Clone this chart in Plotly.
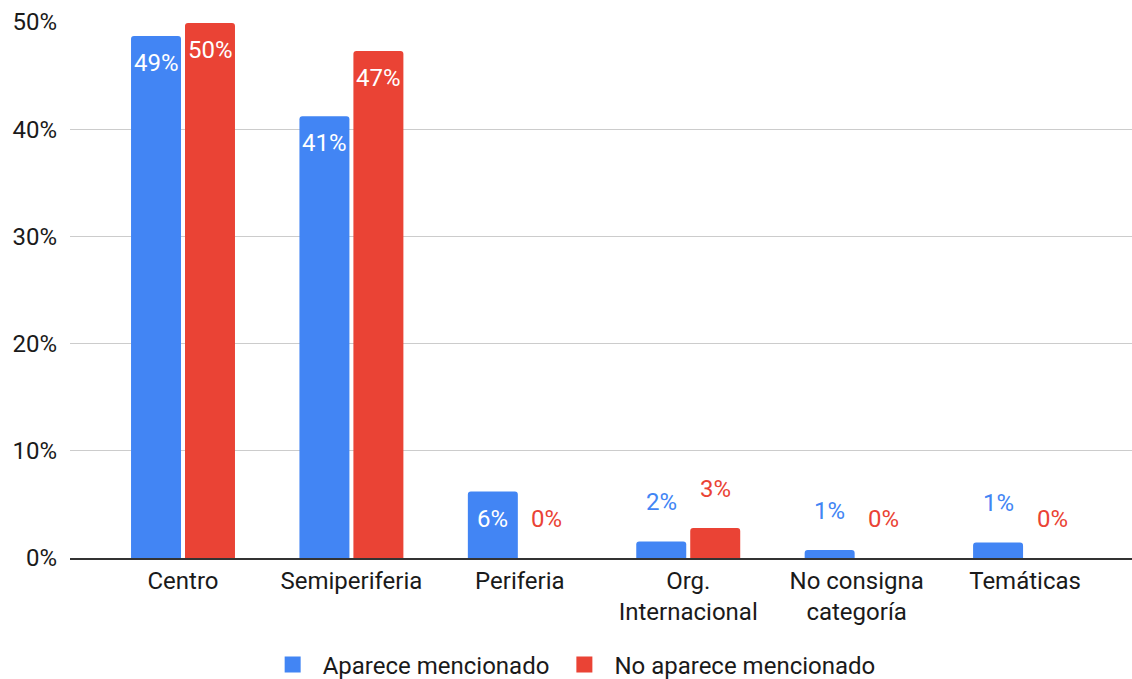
import plotly.graph_objects as go

categories = ["Centro", "Semiperiferia", "Periferia", "Org.<br>Internacional",
              "No consigna<br>categoría", "Temáticas"]
aparece = [48.7, 41.2, 6.2, 1.55, 0.75, 1.45]
no_aparece = [49.9, 47.3, 0.0, 2.8, 0.0, 0.0]
series_names = ["Aparece mencionado", "No aparece mencionado"]
y_ticks = [0, 10, 20, 30, 40, 50]
y_tick_labels = ["0%", "10%", "20%", "30%", "40%", "50%"]

BLUE = "#4285F4"
RED = "#EA4335"
FONT = "Roboto, Arial, sans-serif"
FS = 24
TXT = "#1a1a1a"

fig = go.Figure()
for name, vals, col in [(series_names[0], aparece, BLUE), (series_names[1], no_aparece, RED)]:
    fig.add_trace(go.Bar(x=list(range(len(categories))), y=vals, name=name,
                         marker=dict(color=col, line=dict(width=0), cornerradius=3),
                         showlegend=False, hoverinfo="skip"))
    fig.add_trace(go.Scatter(x=[None], y=[None], mode="markers", name=name,
                             marker=dict(symbol="square", size=18, color=col)))

annotations = []
for vals, col, shift in [(aparece, BLUE, -27), (no_aparece, RED, 27)]:
    for i, v in enumerate(vals):
        txt = f"{round(v)}%"
        if v > 4:
            annotations.append(dict(x=i, y=v, xref="x", yref="y", text=txt, showarrow=False,
                                    xshift=shift, yanchor="top", yshift=-11,
                                    font=dict(family=FONT, size=FS, color="white")))
        else:
            annotations.append(dict(x=i, y=v, xref="x", yref="y", text=txt, showarrow=False,
                                    xshift=shift, yanchor="bottom", yshift=23,
                                    font=dict(family=FONT, size=FS, color=col)))

fig.update_layout(
    width=1132, height=679,
    margin=dict(l=70, r=0, t=22, b=121, autoexpand=False),
    paper_bgcolor="white", plot_bgcolor="white",
    barmode="group", bargap=0.359, bargroupgap=0.074,
    font=dict(family=FONT, size=FS, color=TXT),
    annotations=annotations,
    legend=dict(orientation="h", xref="container", yref="container",
                x=0.505, xanchor="center", y=0.0206, yanchor="middle",
                font=dict(family=FONT, size=FS, color=TXT), itemsizing="trace",
                itemwidth=50),
    xaxis=dict(range=[-0.671, 5.635], tickmode="array", tickvals=list(range(len(categories))),
               ticktext=categories, showgrid=False, zeroline=False, automargin=False,
               showline=True, linecolor="#333333", linewidth=2, ticks="",
               tickfont=dict(family=FONT, size=FS, color=TXT)),
    yaxis=dict(range=[0, 50], tickmode="array", tickvals=y_ticks, ticktext=y_tick_labels,
               showgrid=True, gridcolor="#CCCCCC", gridwidth=1, zeroline=False,
               showline=False, ticks="", ticklabelstandoff=12, automargin=False,
               tickfont=dict(family=FONT, size=FS, color=TXT)),
)

fig.write_html("out.html")
